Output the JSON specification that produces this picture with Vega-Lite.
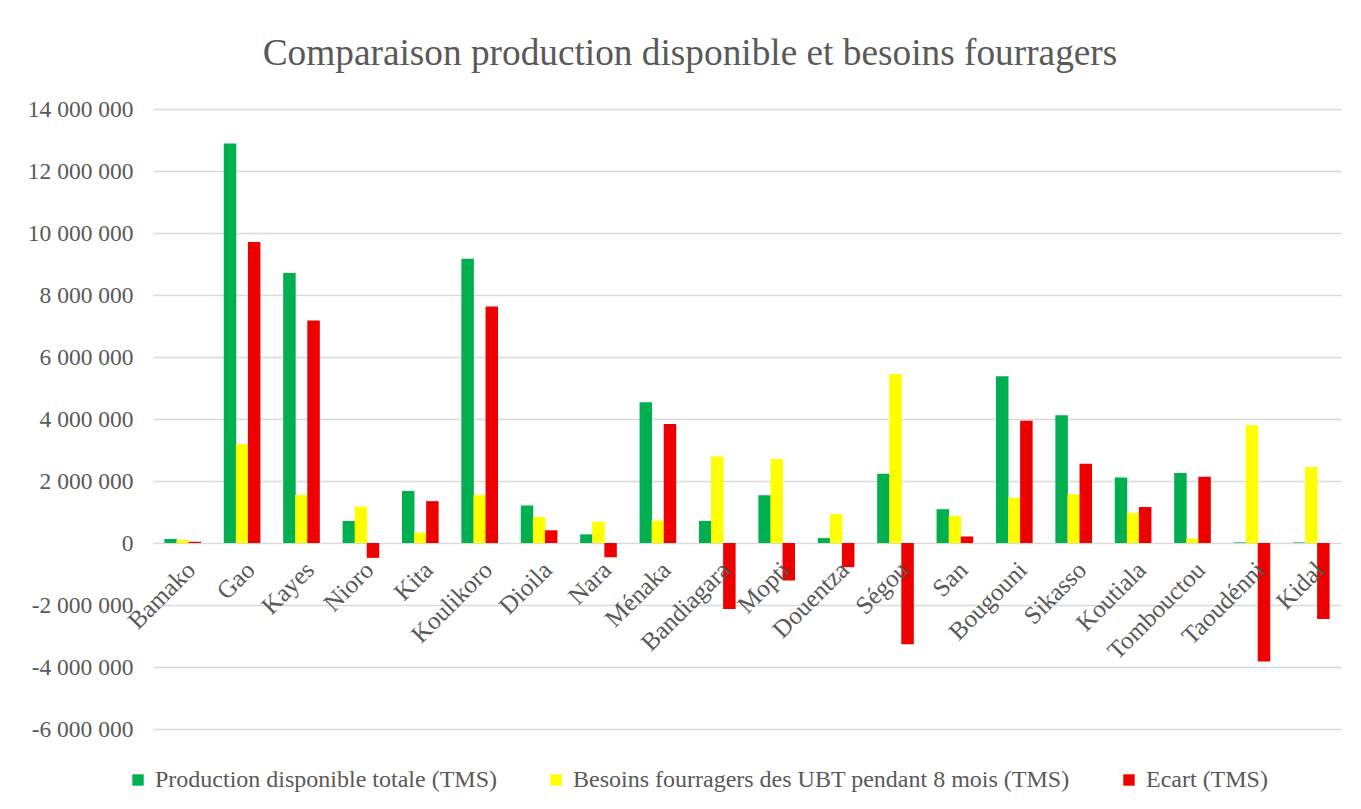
{
  "$schema": "https://vega.github.io/schema/vega-lite/v6.json",
  "autosize": "none",
  "width": 1188,
  "height": 620,
  "padding": {"left": 153, "top": 109, "right": 20, "bottom": 80},
  "background": "white",
  "title": {
    "text": "Comparaison production disponible et besoins fourragers",
    "font": "Liberation Serif",
    "fontSize": 37.3,
    "fontWeight": "normal",
    "color": "#595959",
    "anchor": "middle",
    "dx": -57,
    "offset": 24
  },
  "data": {
    "values": [
      {"region": "Bamako", "serie": "Production disponible totale (TMS)", "value": 130000},
      {"region": "Bamako", "serie": "Besoins fourragers des UBT pendant 8 mois (TMS)", "value": 95000},
      {"region": "Bamako", "serie": "Ecart (TMS)", "value": 40000},
      {"region": "Gao", "serie": "Production disponible totale (TMS)", "value": 12890000},
      {"region": "Gao", "serie": "Besoins fourragers des UBT pendant 8 mois (TMS)", "value": 3190000},
      {"region": "Gao", "serie": "Ecart (TMS)", "value": 9710000},
      {"region": "Kayes", "serie": "Production disponible totale (TMS)", "value": 8710000},
      {"region": "Kayes", "serie": "Besoins fourragers des UBT pendant 8 mois (TMS)", "value": 1550000},
      {"region": "Kayes", "serie": "Ecart (TMS)", "value": 7180000},
      {"region": "Nioro", "serie": "Production disponible totale (TMS)", "value": 710000},
      {"region": "Nioro", "serie": "Besoins fourragers des UBT pendant 8 mois (TMS)", "value": 1170000},
      {"region": "Nioro", "serie": "Ecart (TMS)", "value": -480000},
      {"region": "Kita", "serie": "Production disponible totale (TMS)", "value": 1680000},
      {"region": "Kita", "serie": "Besoins fourragers des UBT pendant 8 mois (TMS)", "value": 340000},
      {"region": "Kita", "serie": "Ecart (TMS)", "value": 1350000},
      {"region": "Koulikoro", "serie": "Production disponible totale (TMS)", "value": 9170000},
      {"region": "Koulikoro", "serie": "Besoins fourragers des UBT pendant 8 mois (TMS)", "value": 1550000},
      {"region": "Koulikoro", "serie": "Ecart (TMS)", "value": 7630000},
      {"region": "Dioila", "serie": "Production disponible totale (TMS)", "value": 1210000},
      {"region": "Dioila", "serie": "Besoins fourragers des UBT pendant 8 mois (TMS)", "value": 840000},
      {"region": "Dioila", "serie": "Ecart (TMS)", "value": 410000},
      {"region": "Nara", "serie": "Production disponible totale (TMS)", "value": 280000},
      {"region": "Nara", "serie": "Besoins fourragers des UBT pendant 8 mois (TMS)", "value": 690000},
      {"region": "Nara", "serie": "Ecart (TMS)", "value": -460000},
      {"region": "Ménaka", "serie": "Production disponible totale (TMS)", "value": 4540000},
      {"region": "Ménaka", "serie": "Besoins fourragers des UBT pendant 8 mois (TMS)", "value": 720000},
      {"region": "Ménaka", "serie": "Ecart (TMS)", "value": 3840000},
      {"region": "Bandiagara", "serie": "Production disponible totale (TMS)", "value": 710000},
      {"region": "Bandiagara", "serie": "Besoins fourragers des UBT pendant 8 mois (TMS)", "value": 2790000},
      {"region": "Bandiagara", "serie": "Ecart (TMS)", "value": -2130000},
      {"region": "Mopti", "serie": "Production disponible totale (TMS)", "value": 1540000},
      {"region": "Mopti", "serie": "Besoins fourragers des UBT pendant 8 mois (TMS)", "value": 2710000},
      {"region": "Mopti", "serie": "Ecart (TMS)", "value": -1210000},
      {"region": "Douentza", "serie": "Production disponible totale (TMS)", "value": 160000},
      {"region": "Douentza", "serie": "Besoins fourragers des UBT pendant 8 mois (TMS)", "value": 940000},
      {"region": "Douentza", "serie": "Ecart (TMS)", "value": -780000},
      {"region": "Ségou", "serie": "Production disponible totale (TMS)", "value": 2230000},
      {"region": "Ségou", "serie": "Besoins fourragers des UBT pendant 8 mois (TMS)", "value": 5450000},
      {"region": "Ségou", "serie": "Ecart (TMS)", "value": -3270000},
      {"region": "San", "serie": "Production disponible totale (TMS)", "value": 1090000},
      {"region": "San", "serie": "Besoins fourragers des UBT pendant 8 mois (TMS)", "value": 880000},
      {"region": "San", "serie": "Ecart (TMS)", "value": 210000},
      {"region": "Bougouni", "serie": "Production disponible totale (TMS)", "value": 5380000},
      {"region": "Bougouni", "serie": "Besoins fourragers des UBT pendant 8 mois (TMS)", "value": 1460000},
      {"region": "Bougouni", "serie": "Ecart (TMS)", "value": 3940000},
      {"region": "Sikasso", "serie": "Production disponible totale (TMS)", "value": 4120000},
      {"region": "Sikasso", "serie": "Besoins fourragers des UBT pendant 8 mois (TMS)", "value": 1570000},
      {"region": "Sikasso", "serie": "Ecart (TMS)", "value": 2560000},
      {"region": "Koutiala", "serie": "Production disponible totale (TMS)", "value": 2110000},
      {"region": "Koutiala", "serie": "Besoins fourragers des UBT pendant 8 mois (TMS)", "value": 970000},
      {"region": "Koutiala", "serie": "Ecart (TMS)", "value": 1160000},
      {"region": "Tombouctou", "serie": "Production disponible totale (TMS)", "value": 2260000},
      {"region": "Tombouctou", "serie": "Besoins fourragers des UBT pendant 8 mois (TMS)", "value": 140000},
      {"region": "Tombouctou", "serie": "Ecart (TMS)", "value": 2140000},
      {"region": "Taoudénni", "serie": "Production disponible totale (TMS)", "value": 20000},
      {"region": "Taoudénni", "serie": "Besoins fourragers des UBT pendant 8 mois (TMS)", "value": 3800000},
      {"region": "Taoudénni", "serie": "Ecart (TMS)", "value": -3820000},
      {"region": "Kidal", "serie": "Production disponible totale (TMS)", "value": 20000},
      {"region": "Kidal", "serie": "Besoins fourragers des UBT pendant 8 mois (TMS)", "value": 2450000},
      {"region": "Kidal", "serie": "Ecart (TMS)", "value": -2450000}
    ]
  },
  "mark": {"type": "bar", "width": 12.5},
  "encoding": {
    "x": {
      "field": "region",
      "type": "nominal",
      "sort": null,
      "title": null,
      "scale": {"paddingInner": 0.39, "paddingOuter": 0.195},
      "axis": {
        "labelAngle": -45,
        "labelFont": "Liberation Serif",
        "labelFontSize": 25,
        "labelColor": "#595959",
        "ticks": false,
        "domain": false,
        "grid": false,
        "offset": -186,
        "labelPadding": 14,
        "labelOverlap": false,
        "zindex": 2
      }
    },
    "xOffset": {
      "field": "serie",
      "type": "nominal",
      "sort": ["Production disponible totale (TMS)", "Besoins fourragers des UBT pendant 8 mois (TMS)", "Ecart (TMS)"],
      "scale": {"paddingInner": 0, "paddingOuter": 0}
    },
    "y": {
      "field": "value",
      "type": "quantitative",
      "title": null,
      "scale": {"domain": [-6000000, 14000000], "nice": false, "zero": false},
      "axis": {
        "values": [-6000000, -4000000, -2000000, 0, 2000000, 4000000, 6000000, 8000000, 10000000, 12000000, 14000000],
        "format": ",d",
        "labelFont": "Liberation Serif",
        "labelFontSize": 23.5,
        "labelColor": "#595959",
        "labelPadding": 20,
        "ticks": false,
        "domain": false,
        "gridColor": "#d9d9d9",
        "gridWidth": 1.5
      }
    },
    "color": {
      "field": "serie",
      "type": "nominal",
      "sort": ["Production disponible totale (TMS)", "Besoins fourragers des UBT pendant 8 mois (TMS)", "Ecart (TMS)"],
      "scale": {
        "domain": ["Production disponible totale (TMS)", "Besoins fourragers des UBT pendant 8 mois (TMS)", "Ecart (TMS)"],
        "range": ["#00B050", "#FFFF00", "#EE0000"]
      },
      "legend": {
        "title": null,
        "orient": "none",
        "direction": "horizontal",
        "legendX": -27,
        "legendY": 659,
        "symbolType": "square",
        "symbolSize": 130,
        "symbolStrokeWidth": 0,
        "labelFont": "Liberation Serif",
        "labelFontSize": 24,
        "labelColor": "#595959",
        "labelOffset": 5,
        "columnPadding": 47,
        "labelLimit": 700
      }
    }
  },
  "config": {
    "locale": {
      "number": {"decimal": ",", "thousands": " ", "grouping": [3], "currency": ["", " €"], "minus": "-"}
    },
    "view": {"stroke": null}
  }
}
